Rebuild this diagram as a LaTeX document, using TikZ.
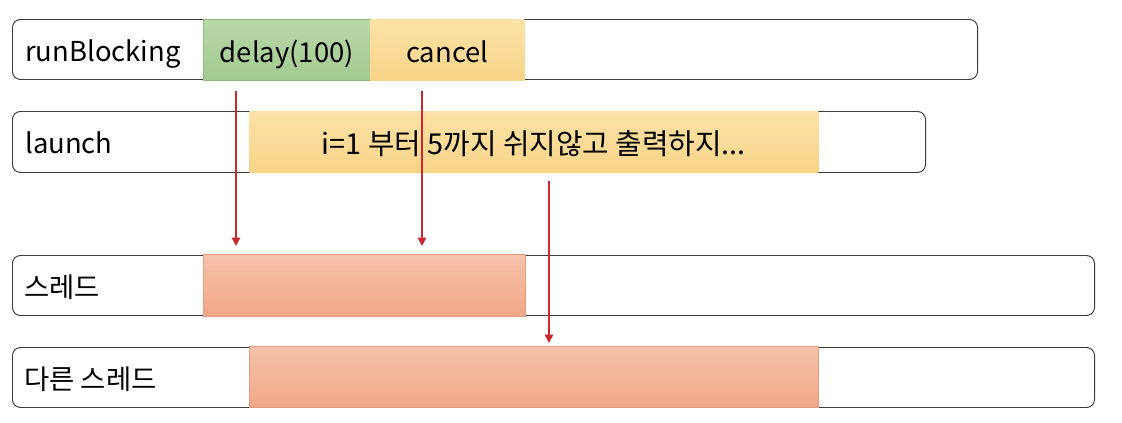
\documentclass[tikz,border=0pt]{standalone}
\usepackage{fontspec}
\setmainfont{Noto Sans CJK KR}
\usetikzlibrary{arrows.meta}
\definecolor{rowline}{HTML}{3C3C3C}
\definecolor{greentop}{HTML}{B8D8AA}
\definecolor{greenbot}{HTML}{A3CB90}
\definecolor{greenedge}{HTML}{8DBB7A}
\definecolor{orangetop}{HTML}{FCE2A8}
\definecolor{orangebot}{HTML}{F8D487}
\definecolor{salmontop}{HTML}{F5C2AA}
\definecolor{salmonbot}{HTML}{F2A787}
\definecolor{salmonedge}{HTML}{E89C7E}
\definecolor{arrowred}{HTML}{C8282E}

\begin{document}
\begin{tikzpicture}[x=0.025cm, y=-0.025cm,
    every node/.style={font=\fontsize{19.5pt}{24pt}\selectfont, text height=18pt, text depth=0.5pt},
    rowbox/.style={draw=rowline, line width=0.7pt, rounded corners=0.2cm, anchor=north west, inner sep=0pt},
    rowlabel/.style={anchor=west, inner sep=0pt},
    greenbox/.style={anchor=north west, inner sep=0pt, draw=greenedge, line width=0.4pt, top color=greentop, bottom color=greenbot},
    orangebox/.style={anchor=north west, inner sep=0pt, top color=orangetop, bottom color=orangebot},
    salmonbox/.style={anchor=north west, inner sep=0pt, draw=salmonedge, line width=0.4pt, top color=salmontop, bottom color=salmonbot},
    signal/.style={draw=arrowred, line width=1.2pt, -{Triangle[length=6pt, width=6pt]}}]
    \useasboundingbox (0,0) rectangle (1122,422);

    % Rows
    \node[rowbox, minimum width=965*0.025cm, minimum height=60*0.025cm] (rbrow) at (12,19) {};
    \node[rowbox, minimum width=913*0.025cm, minimum height=61*0.025cm] (lnrow) at (12,111) {};
    \node[rowbox, minimum width=1082*0.025cm, minimum height=60*0.025cm] (thrrow) at (12,255) {};
    \node[rowbox, minimum width=1082*0.025cm, minimum height=60*0.025cm] (otherrow) at (12,347) {};

    % Row labels
    \node[rowlabel] (rblabel) at (25,49) {runBlocking};
    \node[rowlabel] (lnlabel) at (25,141) {launch};
    \node[rowlabel] (thrlabel) at (24,285) {스레드};
    \node[rowlabel] (otherlabel) at (24,377) {다른 스레드};

    % Tasks
    \node[greenbox, minimum width=167*0.025cm, minimum height=61*0.025cm] (delay) at (203,19) {delay(100)};
    \node[orangebox, minimum width=154*0.025cm, minimum height=61*0.025cm] (cancel) at (370,19) {cancel};
    \node[orangebox, minimum width=569*0.025cm, minimum height=61*0.025cm, font=\fontsize{20.5pt}{24pt}\selectfont] (loop) at (249,111) {i=1 부터 5까지 쉬지않고 출력하지...};

    % Thread usage
    \node[salmonbox, minimum width=322*0.025cm, minimum height=62*0.025cm] (thrbusy) at (203,254) {};
    \node[salmonbox, minimum width=569*0.025cm, minimum height=61*0.025cm] (otherbusy) at (249,346) {};

    % Arrows
    \coordinate (delayout) at (236,91);
    \coordinate (delayin) at (236,246);
    \coordinate (cancelout) at (422,91);
    \coordinate (cancelin) at (422,246);
    \coordinate (loopout) at (549,181);
    \coordinate (loopin) at (549,343);
    \draw[signal] (delayout) -- (delayin);
    \draw[signal] (cancelout) -- (cancelin);
    \draw[signal] (loopout) -- (loopin);
\end{tikzpicture}
\end{document}
